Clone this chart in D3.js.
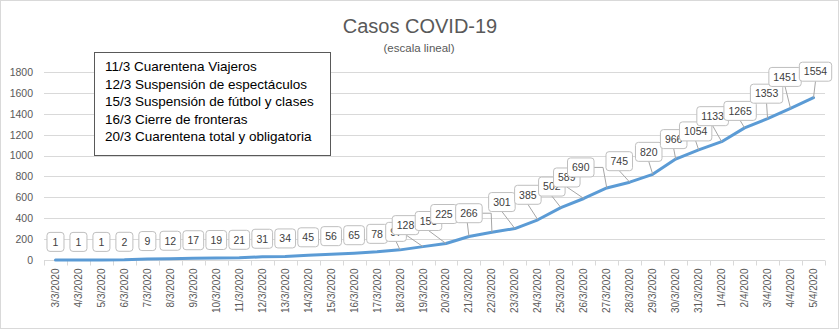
<!DOCTYPE html>
<html>
<head>
<meta charset="utf-8">
<script src="https://cdn.jsdelivr.net/npm/d3@7"></script>
<style>
  html, body { margin: 0; padding: 0; background: #fff; }
  svg { display: block; font-family: "Liberation Sans", Arial, sans-serif; }
</style>
</head>
<body>
<svg id="chart" width="839" height="329"></svg>
<script>
// Daily cumulative confirmed cases
const dates = ["3/3/2020","4/3/2020","5/3/2020","6/3/2020","7/3/2020","8/3/2020","9/3/2020",
  "10/3/2020","11/3/2020","12/3/2020","13/3/2020","14/3/2020","15/3/2020","16/3/2020",
  "17/3/2020","18/3/2020","19/3/2020","20/3/2020","21/3/2020","22/3/2020","23/3/2020",
  "24/3/2020","25/3/2020","26/3/2020","27/3/2020","28/3/2020","29/3/2020","30/3/2020",
  "31/3/2020","1/4/2020","2/4/2020","3/4/2020","4/4/2020","5/4/2020"];
const cases = [1,1,1,2,9,12,17,19,21,31,34,45,56,65,78,97,128,158,225,266,301,385,502,589,
  690,745,820,966,1054,1133,1265,1353,1451,1554];
const yTicks = [0,200,400,600,800,1000,1200,1400,1600,1800];
const events = [
  "11/3 Cuarentena Viajeros",
  "12/3 Suspensión de espectáculos",
  "15/3 Suspensión de fútbol y clases",
  "16/3 Cierre de fronteras",
  "20/3 Cuarentena total y obligatoria"
];
const titleText = "Casos COVID-19";
const subtitleText = "(escala lineal)";

// Hand-placed value labels (pixel nudge from the point); null = default "above" spot
const labelShift = [null,null,null,null,null,null,null,null,null,null,null,null,null,null,null,
  [-4,-18],[-17.5,-21.5],[-17.5,-22.5],[-25,-22.5],[-23,-19],[-13,-26.5],[-10,-25],[-9,-21],
  [-17,-21],[-26,-20.5],[-10.5,-21],[-4,-22.5],[-2,-20],[-3,-18.5],[-9,-25.5],[-4.5,-17],
  [-1,-25],[-5.5,-31.5],[2,-26]];

const W = 839, H = 329;
const plot = { left: 44, right: 825, top: 72, bottom: 260 };
const svg = d3.select("#chart");

// outer frame
svg.append("rect").attr("x", 0.5).attr("y", 0.5).attr("width", W - 1).attr("height", H - 1)
  .attr("fill", "#fff").attr("stroke", "#d9d9d9");

const x = d3.scaleBand().domain(dates).range([plot.left, plot.right]).padding(0);
const y = d3.scaleLinear().domain([0, 1800]).range([plot.bottom, plot.top]);
const cx = d => x(d) + x.bandwidth() / 2;

// gridlines
svg.append("g").selectAll("line").data(yTicks.filter(t => t > 0)).join("line")
  .attr("x1", plot.left).attr("x2", plot.right)
  .attr("y1", d => Math.round(y(d)) + 0.5).attr("y2", d => Math.round(y(d)) + 0.5)
  .attr("stroke", "#d9d9d9").attr("stroke-width", 1);

// y axis labels
const yAxis = svg.append("g").attr("transform", `translate(${plot.left - 11},0)`)
  .call(d3.axisLeft(y).tickValues(yTicks).tickFormat(d3.format("d")).tickSize(0).tickPadding(0));
yAxis.select(".domain").remove();
yAxis.selectAll("text").attr("fill", "#595959").attr("font-size", "10.5px")
  .attr("font-family", "Liberation Sans, Arial, sans-serif");

// x axis with ticks on category boundaries
const xAxisY = Math.round(y(0)) + 0.5;
svg.append("line").attr("x1", plot.left).attr("x2", plot.right)
  .attr("y1", xAxisY).attr("y2", xAxisY).attr("stroke", "#d9d9d9");
const boundaries = dates.map(d => x(d)).concat([plot.right]);
svg.append("g").selectAll("line").data(boundaries).join("line")
  .attr("x1", d => Math.round(d) + 0.5).attr("x2", d => Math.round(d) + 0.5)
  .attr("y1", xAxisY).attr("y2", xAxisY + 5).attr("stroke", "#d9d9d9");
svg.append("g").selectAll("text").data(dates).join("text")
  .attr("transform", d => `translate(${cx(d)},${xAxisY + 8}) rotate(-90)`)
  .attr("text-anchor", "end").attr("dy", "0.35em")
  .attr("font-size", "10px").attr("fill", "#595959").text(d => d);

// series line
const pts = dates.map((d, i) => ({ d, v: cases[i], px: cx(d), py: y(cases[i]) }));
svg.append("path").datum(pts)
  .attr("d", d3.line().x(p => p.px).y(p => p.py))
  .attr("fill", "none").attr("stroke", "#5b9bd5").attr("stroke-width", 3)
  .attr("stroke-linejoin", "round").attr("stroke-linecap", "round");

// value labels
const labelFont = 10.5, boxH = 19, padX = 4.5;
const measure = svg.append("text").attr("font-size", labelFont + "px").attr("visibility", "hidden");
pts.forEach((p, i) => {
  measure.text(p.v);
  const tw = measure.node().getComputedTextLength();
  const s = labelShift[i] || [0, -18];
  p.lx = p.px + s[0];
  p.ly = p.py + s[1];
  p.bw = Math.max(tw + 2 * padX, 17);
  p.moved = !!labelShift[i];
});
measure.remove();

// leader lines for hand-placed labels
const leaders = svg.append("g");
pts.filter(p => p.moved).forEach(p => {
  const right = p.lx + p.bw / 2, bottom = p.ly + boxH / 2;
  let path;
  if (p.px - right > 8) {
    const hx = Math.min(right + 9, p.px);
    path = [[right, p.ly], [hx, p.ly], [p.px, p.py]];
  } else {
    path = [[p.lx, bottom], [p.px, p.py]];
  }
  leaders.append("path").attr("d", d3.line()(path))
    .attr("fill", "none").attr("stroke", "#a6a6a6").attr("stroke-width", 1);
});

const labels = svg.append("g").selectAll("g").data(pts).join("g");
labels.append("rect")
  .attr("x", p => p.lx - p.bw / 2).attr("y", p => p.ly - boxH / 2)
  .attr("width", p => p.bw).attr("height", boxH).attr("rx", 3)
  .attr("fill", "#fff").attr("stroke", "#bfbfbf");
labels.append("text")
  .attr("x", p => p.lx).attr("y", p => p.ly).attr("dy", "0.36em")
  .attr("text-anchor", "middle").attr("font-size", labelFont + "px").attr("fill", "#404040")
  .text(p => p.v);

// title block
svg.append("text").attr("x", 420).attr("y", 33).attr("text-anchor", "middle")
  .attr("font-size", "20px").attr("fill", "#595959").text(titleText);
svg.append("text").attr("x", 419).attr("y", 52).attr("text-anchor", "middle")
  .attr("font-size", "11.5px").attr("fill", "#595959").text(subtitleText);

// events box
const ev = svg.append("g");
ev.append("rect").attr("x", 94.5).attr("y", 52.5).attr("width", 236).attr("height", 103)
  .attr("fill", "#fff").attr("stroke", "#595959");
ev.selectAll("text").data(events).join("text")
  .attr("x", 105).attr("y", (d, i) => 71 + i * 17.5)
  .attr("font-size", "13.5px").attr("fill", "#000").text(d => d);
</script>
</body>
</html>
